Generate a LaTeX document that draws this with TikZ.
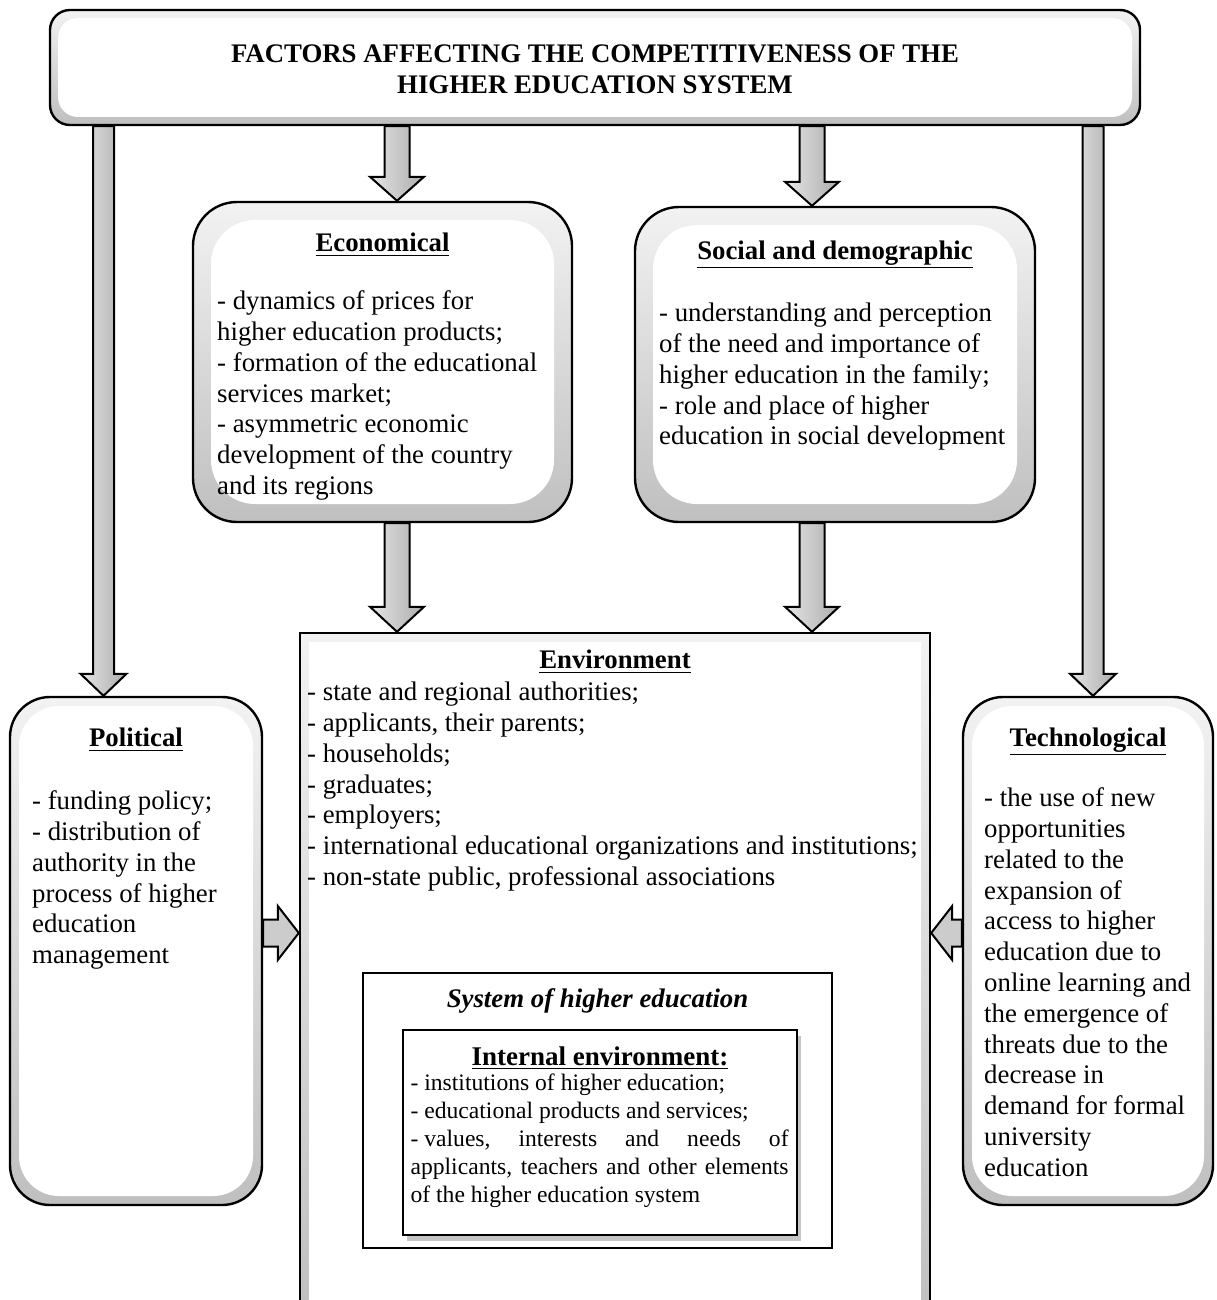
\documentclass[tikz,border=0pt]{standalone}
\usepackage{fontspec}
\setmainfont{Liberation Serif}
\usetikzlibrary{calc, positioning, shadows}

% block arrow: start, end, shaft half width, head half width, head length
\newcommand{\blockarr}[6][barrow]{%
  \coordinate (ba-s) at #2;
  \coordinate (ba-e) at #3;
  \coordinate (ba-h) at ($(ba-e)!#6!(ba-s)$);
  \draw[#1] ($(ba-s)!#4!90:(ba-e)$) -- ($(ba-h)!#4!90:(ba-e)$)
    -- ($(ba-h)!#5!90:(ba-e)$) -- (ba-e) -- ($(ba-h)!#5!-90:(ba-e)$)
    -- ($(ba-h)!#4!-90:(ba-e)$) -- ($(ba-s)!#4!-90:(ba-e)$) -- cycle;
}

\begin{document}
\begin{tikzpicture}[x=0.5pt, y=-0.5pt,
    every node/.style={inner sep=0pt, font=\fontsize{13.4}{15.4}\selectfont},
    panel/.style 2 args={draw, line width=1.2pt, rounded corners=#1,
      top color=gray!10, bottom color=gray!50,
      path picture={\fill[white, rounded corners=#1]
        ($(path picture bounding box.north west)+(#2,#2)$) rectangle
        ($(path picture bounding box.south east)+(-#2,-#2)$);}},
    head/.style={font=\fontsize{13.4}{15.4}\selectfont\bfseries},
    body/.style={anchor=north west, align=left},
    barrow/.style={draw, line width=1pt, left color=gray!20, right color=gray!65},
    sarrow/.style={draw, line width=1pt, fill=gray!40}]
  \clip (0,0) rectangle (1216,1300);

  % boxes
  \node[panel={10pt}{8}, minimum width=545pt, minimum height=57.5pt] (top) at (595,67.5) {};
  \node[panel={22pt}{18}, minimum width=189.5pt, minimum height=160pt] (eco) at (382.5,362) {};
  \node[panel={22pt}{18}, minimum width=200pt, minimum height=157.5pt] (soc) at (835,364.5) {};
  \node[panel={20pt}{9}, minimum width=126pt, minimum height=254pt] (pol) at (136,951) {};
  \node[panel={20pt}{9}, minimum width=125pt, minimum height=254pt] (tech) at (1088,951) {};
  \node[panel={0pt}{9}, minimum width=315pt, minimum height=343.5pt] (env) at (615,976.5) {};
  \node[draw, line width=0.6pt, fill=white, minimum width=234.5pt, minimum height=137.5pt] (sys) at (597.5,1110.5) {};
  \node[draw, line width=0.8pt, fill=white, minimum width=197pt, minimum height=102.5pt,
    drop shadow={shadow xshift=2pt, shadow yshift=-3pt, opacity=0.45}] (intl) at (600,1132.5) {};

  % arrows
  \blockarr{(103.5,0 |- top.south)}{(103.5,0 |- pol.north)}{5.25pt}{11.5pt}{11pt}
  \blockarr{(397,0 |- top.south)}{(397,0 |- eco.north)}{6.25pt}{13.5pt}{12pt}
  \blockarr{(812,0 |- top.south)}{(812,0 |- soc.north)}{6.25pt}{13.5pt}{12pt}
  \blockarr{(1093,0 |- top.south)}{(1093,0 |- tech.north)}{5.25pt}{11.5pt}{11pt}
  \blockarr{(397,0 |- eco.south)}{(397,0 |- env.north)}{6.25pt}{13.5pt}{12.5pt}
  \blockarr{(812,0 |- soc.south)}{(812,0 |- env.north)}{6.25pt}{13.5pt}{12.5pt}
  \blockarr[sarrow]{(pol.east |- 0,933)}{(env.west |- 0,933)}{6.75pt}{13.5pt}{10.5pt}
  \blockarr[sarrow]{(tech.west |- 0,933)}{(env.east |- 0,933)}{6.75pt}{13.5pt}{10.5pt}

  % texts
  \node[align=center, font=\fontsize{13.4}{15.4}\selectfont\bfseries] (toptxt) at (595,69.5)
    {FACTORS AFFECTING THE COMPETITIVENESS OF THE\\HIGHER EDUCATION SYSTEM};

  \node[head] (ecohead) at ($(eco.north)+(0,44)$) {\underline{Economical}};
  \node[body] (ecobody) at ($(eco.north west)+(25,87)$)
    {\strut- dynamics of prices for\\higher education products;\\
     - formation of the educational\\services market;\\
     - asymmetric economic\\development of the country\\and its regions};

  \node[head] (sochead) at ($(soc.north)+(0,49)$) {\underline{Social and demographic}};
  \node[body] (socbody) at ($(soc.north west)+(25,94)$)
    {\strut- understanding and perception\\of the need and importance of\\
     higher education in the family;\\- role and place of higher\\
     education in social development};

  \node[head] (polhead) at ($(pol.north)+(0,44)$) {\underline{Political}};
  \node[body] (polbody) at ($(pol.north west)+(23,92)$)
    {\strut- funding policy;\\- distribution of\\authority in the\\
     process of higher\\education\\management};

  \node[head] (techhead) at ($(tech.north)+(0,46)$) {\underline{Technological}};
  \node[body] (techbody) at ($(tech.north west)+(22,89)$)
    {\strut- the use of new\\opportunities\\related to the\\expansion of\\
     access to higher\\education due to\\online learning and\\
     the emergence of\\threats due to the\\decrease in\\
     demand for formal\\university\\education};

  \node[head] (envhead) at ($(env.north)+(0,30)$) {\underline{Environment}};
  \node[body] (envbody) at ($(env.north west)+(8,47)$)
    {\strut- state and regional authorities;\\- applicants, their parents;\\
     - households;\\- graduates;\\- employers;\\
     - international educational organizations and institutions;\\
     - non-state public, professional associations};

  \node[font=\fontsize{13.4}{15.4}\selectfont\bfseries\itshape] (systxt) at ($(sys.north)+(0,29)$)
    {System of higher education};

  \node[head, font=\fontsize{13.5}{15.4}\selectfont\bfseries] (intlhead) at ($(intl.north)+(0,29)$)
    {\underline{Internal environment:}};
  \node[body, text width=189pt, align=justify, font=\fontsize{11.8}{14}\selectfont]
    (intlbody) at ($(intl.north west)+(8,41)$)
    {\hyphenpenalty=10000\strut- institutions of higher education;\\
     - educational products and services;\\
     \mbox{- values,} interests and needs of\linebreak
     applicants, teachers and other elements\linebreak
     of the higher education system};
\end{tikzpicture}
\end{document}
